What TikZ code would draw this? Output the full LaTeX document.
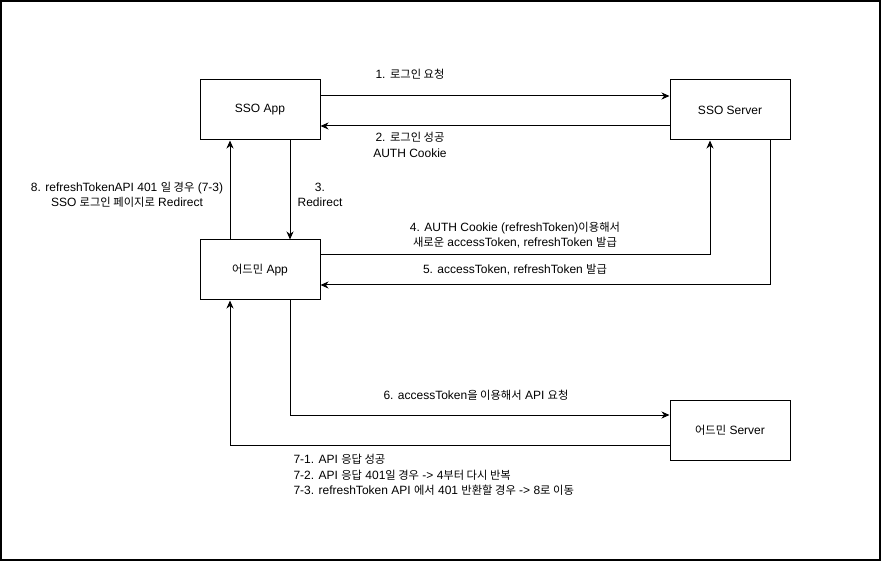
\documentclass[tikz,border=0pt]{standalone}
\usepackage{fontspec}
\setmainfont{Liberation Sans}
\newfontfamily\krfont[Scale=0.94]{Noto Sans CJK KR}
\newcommand{\ko}[1]{{\krfont #1}}
\usetikzlibrary{arrows.meta}

\begin{document}
\begin{tikzpicture}[x=1pt, y=-1pt,
    box/.style={draw, line width=1pt, minimum width=120pt, minimum height=60pt, font=\fontsize{12}{15}\selectfont},
    lbl/.style={align=center, font=\fontsize{12}{15.5}\selectfont},
    flow/.style={draw, line width=1pt, -{Stealth[length=8pt,width=7pt,inset=2.5pt]}}]
    \useasboundingbox (0,0) rectangle (881,561);
    \draw[line width=2pt] (1,1) rectangle (880,560);

    % the four parties
    \node[box] (ssoapp) at (260,110) {SSO App};
    \node[box] (ssoserver) at (730,110) {SSO Server};
    \node[box] (adminapp) at (260,270) {\ko{어드민} App};
    \node[box] (adminserver) at (730,430) {\ko{어드민} Server};

    % login
    \draw[flow] ([yshift=14pt]ssoapp.east) -- ([yshift=14pt]ssoserver.west);
    \draw[flow] ([yshift=-16pt]ssoserver.west) -- ([yshift=-16pt]ssoapp.east);
    \node[lbl] (l1) at (410,74) {1. \ko{로그인 요청}};
    \node[lbl] (l2) at (410,145) {2. \ko{로그인 성공}\\AUTH Cookie};

    % redirect between the apps
    \draw[flow] ([xshift=30pt]ssoapp.south) -- ([xshift=30pt]adminapp.north);
    \draw[flow] ([xshift=-30pt]adminapp.north) -- ([xshift=-30pt]ssoapp.south);
    \node[lbl] (l3) at (320,195) {3.\\Redirect};
    \node[lbl] (l8) at (127,195) {8. refreshTokenAPI 401 \ko{일 경우} (7-3)\\SSO \ko{로그인 페이지로} Redirect};

    % token refresh
    \draw[flow] ([yshift=15pt]adminapp.east) -| ([xshift=-20pt]ssoserver.south);
    \draw[flow] ([xshift=40pt]ssoserver.south) |- ([yshift=-15pt]adminapp.east);
    \node[lbl] (l4) at (515,235) {4. AUTH Cookie (refreshToken)\ko{이용해서}\\\ko{새로운} accessToken, refreshToken \ko{발급}};
    \node[lbl] (l5) at (515,270) {5. accessToken, refreshToken \ko{발급}};

    % API call
    \draw[flow] ([xshift=30pt]adminapp.south) |- ([yshift=15pt]adminserver.west);
    \draw[flow] ([yshift=-15pt]adminserver.west) -| ([xshift=-30pt]adminapp.south);
    \node[lbl] (l6) at (476,395) {6. accessToken\ko{을 이용해서} API \ko{요청}};
    \node[lbl, align=left, anchor=west] (l7) at (290,475) {7-1. API \ko{응답 성공}\\7-2. API \ko{응답} 401\ko{일 경우} -> 4\ko{부터 다시 반복}\\7-3. refreshToken API \ko{에서} 401 \ko{반환할 경우} -> 8\ko{로 이동}};
\end{tikzpicture}
\end{document}
